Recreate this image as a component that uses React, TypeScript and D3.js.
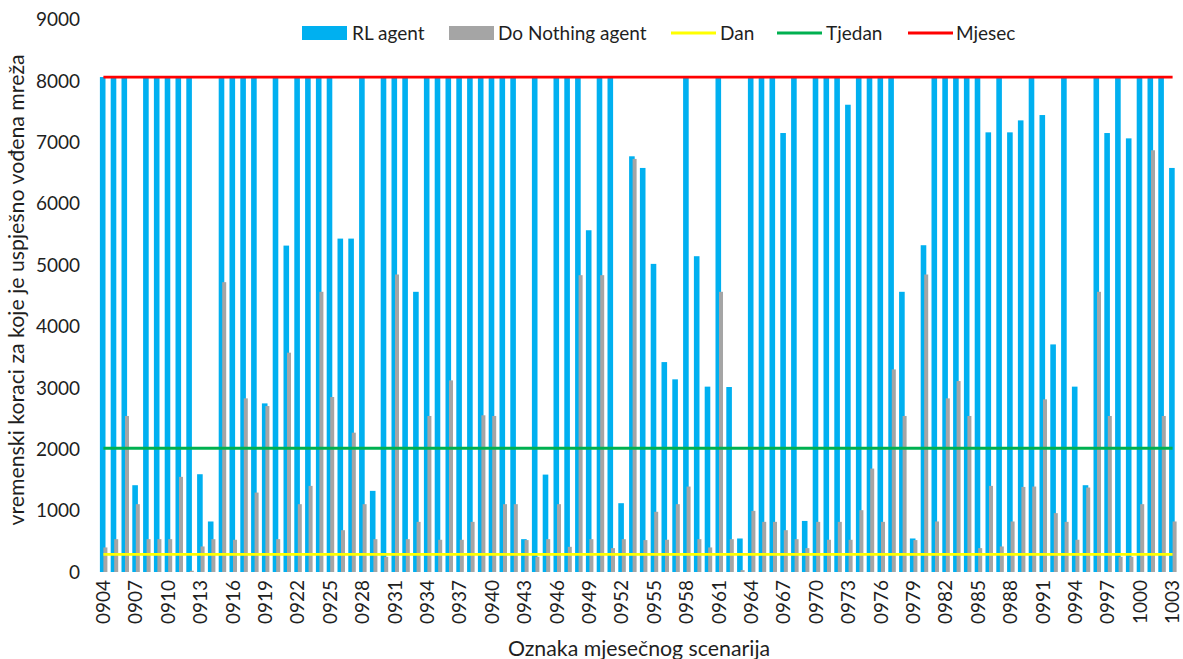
import React from "react";
import * as d3 from "d3";

const categories = [
  "0904","0905","0906","0907","0908","0909","0910","0911","0912","0913",
  "0914","0915","0916","0917","0918","0919","0920","0921","0922","0923",
  "0924","0925","0926","0927","0928","0929","0930","0931","0932","0933",
  "0934","0935","0936","0937","0938","0939","0940","0941","0942","0943",
  "0944","0945","0946","0947","0948","0949","0950","0951","0952","0953",
  "0954","0955","0956","0957","0958","0959","0960","0961","0962","0963",
  "0964","0965","0966","0967","0968","0969","0970","0971","0972","0973",
  "0974","0975","0976","0977","0978","0979","0980","0981","0982","0983",
  "0984","0985","0986","0987","0988","0989","0990","0991","0992","0993",
  "0994","0995","0996","0997","0998","0999","1000","1001","1002","1003",
];

const rlAgent = [
  8064,8064,8064,1414,8064,8064,8064,8064,8064,1593,
  823,8064,8064,8064,8064,2747,8064,5318,8064,8064,
  8064,8064,5432,5432,8064,1322,8064,8064,8064,4565,
  8064,8064,8064,8064,8064,8064,8064,8064,8064,535,
  8064,1587,8064,8064,8064,5568,8064,8064,1121,6773,
  6583,5020,3420,3139,8064,5145,3020,8064,3014,546,
  8064,8064,8064,7152,8064,832,8064,8064,8064,7613,
  8064,8064,8064,8064,4565,546,5324,8064,8064,8064,
  8064,8064,7163,8064,7163,7358,8064,7445,3708,8064,
  3020,1414,8064,7152,8064,7065,8064,8064,8064,6583,
];

const doNothingAgent = [
  400,535,2542,1105,535,535,535,1550,20,416,
  535,4722,525,2829,1294,2704,535,3573,1105,1403,
  4565,2851,681,2270,1105,535,248,4847,535,817,
  2542,525,3122,525,817,2553,2542,1105,1105,520,
  248,535,1105,410,4836,535,4836,389,535,6730,
  520,981,525,1105,1392,535,400,4565,535,30,
  996,817,817,681,535,389,817,525,817,525,
  1007,1685,817,3301,2542,520,4847,823,2829,3111,
  2542,389,1403,416,823,1386,1392,2813,959,817,
  525,1376,4565,2542,248,248,1105,6871,2542,823,
];

const dan = 288;
const tjedan = 2016;
const mjesec = 8064;

const yTicks = [0,1000,2000,3000,4000,5000,6000,7000,8000,9000];
const xTickLabels = categories.filter((_, i) => i % 3 === 0);

const legendItems = [
  { label: "RL agent", kind: "rect", color: "#00B0F0" },
  { label: "Do Nothing agent", kind: "rect", color: "#A5A5A5" },
  { label: "Dan", kind: "line", color: "#FFFF00" },
  { label: "Tjedan", kind: "line", color: "#00B050" },
  { label: "Mjesec", kind: "line", color: "#FF0000" },
];

const W = 1183;
const H = 659;
const FONT = "Lato, 'Open Sans', sans-serif";
const TEXT = "#1f1f1f";

export default function App() {
  const x = d3.scaleBand<string>().domain(categories).range([98, 1178]).paddingInner(0).paddingOuter(0);
  const y = d3.scaleLinear().domain([0, 9000]).range([572, 19.6]);
  const step = x.step();
  const center = (c: string) => (x(c) as number) + step / 2;

  const lineGen = (v: number) =>
    d3.line<string>().x((c) => center(c)).y(() => y(v))(categories) as string;

  const legendX = [302, 449, 671, 777, 908];
  const legendTextX = [352, 498, 720, 826, 956];

  return (
    <svg width={W} height={H} style={{ position: "absolute", left: 0, top: 0, background: "#fff" }}>
      <rect x={0} y={0} width={W} height={H} fill="#fff" />
      {categories.map((c, i) => (
        <g key={c}>
          <rect x={(x(c) as number) + 1.9} y={y(rlAgent[i])} width={5.6} height={y(0) - y(rlAgent[i])} fill="#00B0F0" />
          <rect x={(x(c) as number) + 5.4} y={y(doNothingAgent[i])} width={4} height={y(0) - y(doNothingAgent[i])} fill="#A5A5A5" />
        </g>
      ))}
      <path d={lineGen(dan)} stroke="#FFFF00" strokeWidth={2.8} fill="none" />
      <path d={lineGen(tjedan)} stroke="#00B050" strokeWidth={2.8} fill="none" />
      <path d={lineGen(mjesec)} stroke="#FF0000" strokeWidth={2.8} fill="none" />
      {yTicks.map((t) => (
        <text key={t} x={80} y={y(t)} dy="0.35em" textAnchor="end" fontFamily={FONT} fontSize={19} fill={TEXT}>
          {t}
        </text>
      ))}
      {xTickLabels.map((c) => (
        <text
          key={c}
          transform={`translate(${center(c)},${580}) rotate(-90)`}
          textAnchor="end"
          dy="0.35em"
          fontFamily={FONT}
          fontSize={19}
          fill={TEXT}
        >
          {c}
        </text>
      ))}
      <text transform={`translate(17,${290}) rotate(-90)`} textAnchor="middle" dy="0.35em" fontFamily={FONT} fontSize={21.3} fill={TEXT}>
        vremenski koraci za koje je uspješno vođena mreža
      </text>
      <text x={639} y={656} textAnchor="middle" fontFamily={FONT} fontSize={21.3} fill={TEXT}>
        Oznaka mjesečnog scenarija
      </text>
      {legendItems.map((it, i) => (
        <g key={it.label}>
          {it.kind === "rect" ? (
            <rect x={legendX[i]} y={26} width={45} height={14} fill={it.color} />
          ) : (
            <line x1={legendX[i]} x2={legendX[i] + 45} y1={33} y2={33} stroke={it.color} strokeWidth={2.8} />
          )}
          <text x={legendTextX[i]} y={33} dy="0.35em" fontFamily={FONT} fontSize={19} fill={TEXT}>
            {it.label}
          </text>
        </g>
      ))}
    </svg>
  );
}
